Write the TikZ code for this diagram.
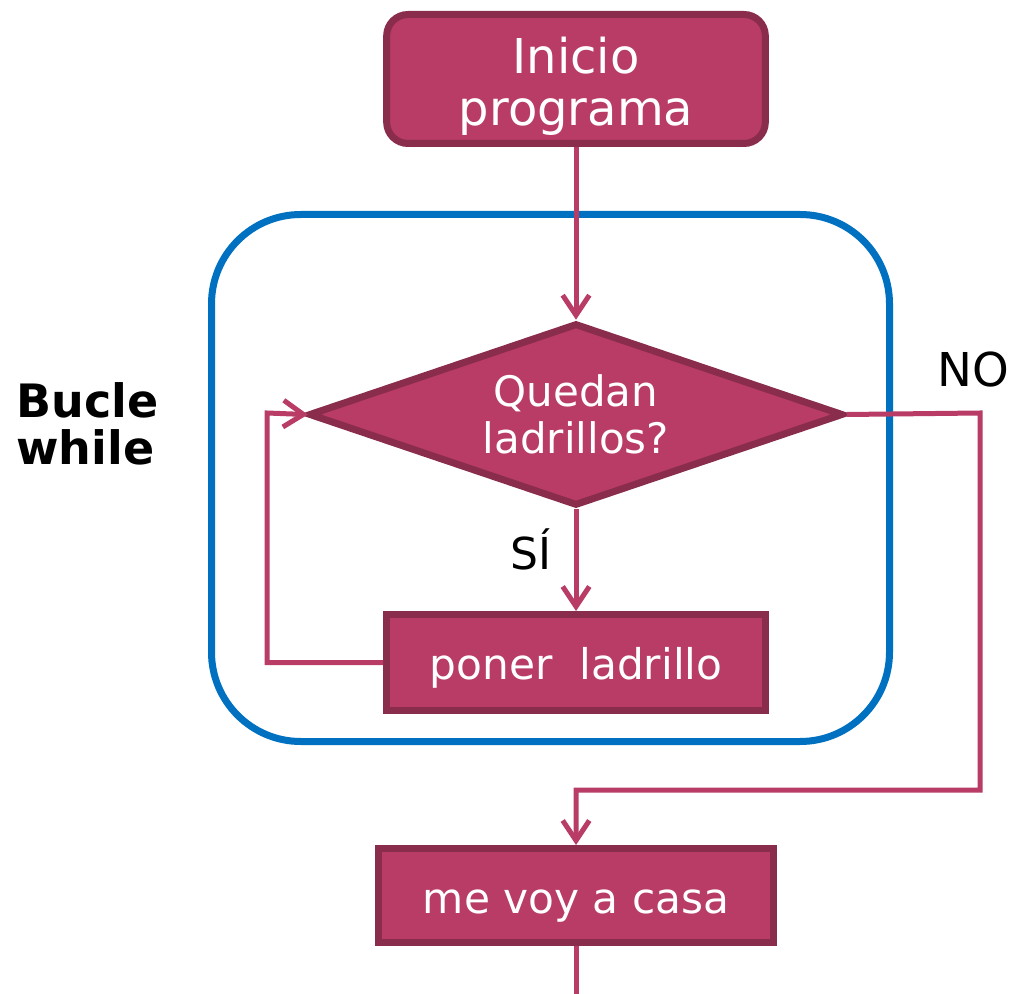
\documentclass[tikz,border=0pt]{standalone}
\usepackage{fontspec}
\setmainfont{DejaVu Sans}
\usetikzlibrary{shapes.geometric,arrows.meta}
\definecolor{boxfill}{HTML}{B83C66}
\definecolor{boxline}{HTML}{8A2C4C}
\definecolor{conn}{HTML}{B83C66}
\definecolor{loopblue}{HTML}{0070C0}
\tikzset{
  flowbox/.style={draw=boxline, fill=boxfill, line width=5.25pt, inner sep=0pt},
  boxtext/.style={text=white, align=center, inner sep=0pt},
  flowconn/.style={draw=conn, line width=3.75pt},
  flowarrow/.style={flowconn, -{Straight Barb[length=15pt,width=20pt,line width=3.75pt]}},
  lbl/.style={text=black, inner sep=0pt}
}
\begin{document}
\begin{tikzpicture}[x=0.75pt,y=-0.75pt]
\useasboundingbox (0,0) rectangle (1014,994);
% loop frame
\draw[loopblue, line width=5.25pt, rounded corners=67pt] (211.5,214.5) rectangle (889.5,741.5);
% nodes
\node[flowbox, rounded corners=16pt, minimum width=284pt, minimum height=96.75pt] (start) at (576,79) {};
\node[boxtext, font=\fontsize{36pt}{39pt}\selectfont] (starttext) at (576,86.5) {Inicio\\programa};
\node[flowbox, diamond, aspect=2.92, minimum width=401pt, minimum height=137pt,
  boxtext, font=\fontsize{31.5pt}{35.5pt}\selectfont] (dia) at (576,414.5) {Quedan\\ladrillos?};
\node[flowbox, minimum width=284pt, minimum height=72pt] (poner) at (576,662.5) {};
\node[boxtext, anchor=base, font=\fontsize{31.7pt}{36pt}\selectfont] (ponertext) at (576,679) {poner\ \ ladrillo};
\node[flowbox, minimum width=296pt, minimum height=70.5pt] (casa) at (576,895.5) {};
\node[boxtext, anchor=base, font=\fontsize{31.7pt}{36pt}\selectfont] (casatext) at (576,913) {me voy a casa};
% labels
\node[lbl, anchor=base, font=\fontsize{35pt}{38pt}\selectfont] (no) at (973,387) {NO};
\node[lbl, anchor=base, font=\fontsize{33pt}{38pt}\selectfont] (si) at (531,570) {SÍ};
\node[lbl, align=left, anchor=west, font=\fontsize{34.5pt}{35pt}\selectfont\bfseries] (bucle) at (16,424) {Bucle\\while};
% coordinates
\coordinate (lx) at (267,413);
\coordinate (nx) at (980,413);
\coordinate (ny) at (980,790);
\coordinate (bend) at (576,994);
% connectors
\draw[flowarrow] (start.south) -- (dia.north);
\draw[flowarrow] (dia.south) -- (poner.north);
\draw[flowarrow, shorten >=-2pt] (poner.west) -| (lx) -- (dia.west);
\draw[flowarrow] (dia.east) -- (nx) -- (ny) -| (casa.north);
\draw[flowconn] (casa.south) -- (bend);
\end{tikzpicture}
\end{document}
